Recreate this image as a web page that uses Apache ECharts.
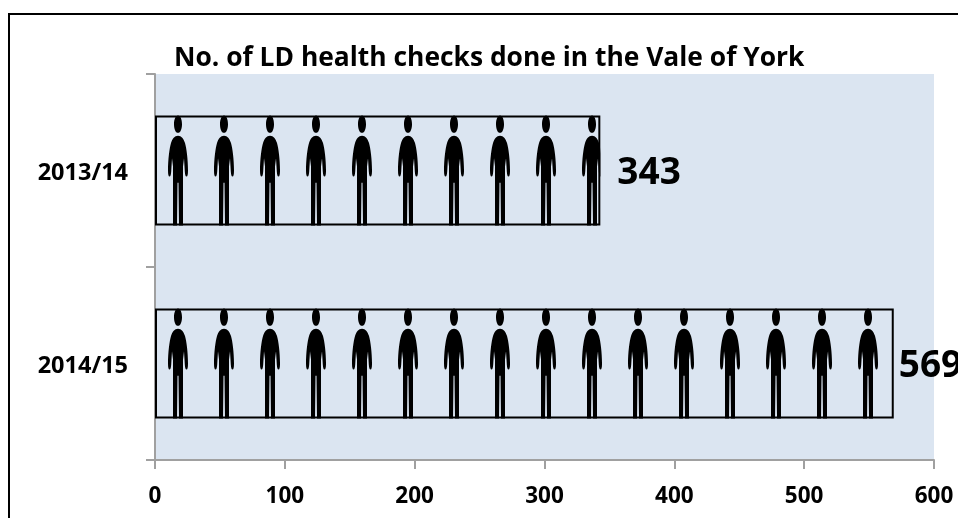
<!DOCTYPE html>
<html>
<head>
<meta charset="utf-8">
<style>
  html, body { margin: 0; padding: 0; background: #fff; }
  #main { width: 958px; height: 518px; }
</style>
<script src="https://cdn.jsdelivr.net/npm/echarts@6/dist/echarts.min.js"></script>
</head>
<body>
<div id="main"></div>
<script>
const titleText = 'No. of LD health checks done in the Vale of York'
const years = ['2013/14', '2014/15']
const checks = [343, 569]
const xTicks = [0, 100, 200, 300, 400, 500, 600]

const font = '"Open Sans", "Noto Sans", sans-serif'
const person = 'path://M10 0C12.5 0 14 4 14 8.5C14 13 12.5 17 10 17C7.5 17 6 13 6 8.5C6 4 7.5 0 10 0Z' +
  'M10 20C13.5 20 15.5 23 17 27C18.5 32 20 43 20 54C20 58 19.5 60 18.5 60C17.5 60 17 58 16.8 55L16 42L15 50L15 108L11 108L10.5 66L9.5 66L9 108L5 108L5 50L4 42L3.2 55C3 58 2.5 60 1.5 60C0.5 60 0 58 0 54C0 43 1.5 32 3 27C4.5 23 6.5 20 10 20Z'

const chart = echarts.init(document.getElementById('main'))

chart.setOption({
  animation: false,
  title: {
    text: titleText,
    left: 174,
    top: 45,
    padding: 0,
    textStyle: { fontFamily: font, fontSize: 26.4, fontWeight: 'bold', color: '#000' }
  },
  grid: {
    left: 155, top: 74, width: 779, height: 386,
    show: true, backgroundColor: '#dbe5f1', borderWidth: 0
  },
  // outer frame runs off the right and bottom of the picture
  graphic: [{
    type: 'rect',
    shape: { x: 9, y: 14, width: 1000, height: 600 },
    style: { fill: 'none', stroke: '#000', lineWidth: 2 },
    z: 0
  }],
  xAxis: {
    type: 'value',
    min: xTicks[0],
    max: xTicks[xTicks.length - 1],
    interval: 100,
    splitLine: { show: false },
    axisLine: { show: true, lineStyle: { color: '#a0a0a0', width: 2 } },
    axisTick: { show: true, length: 9, lineStyle: { color: '#a0a0a0', width: 2 } },
    axisLabel: { fontFamily: font, fontSize: 22.5, fontWeight: 'bold', color: '#000', margin: 25 }
  },
  yAxis: {
    type: 'category',
    data: years,
    inverse: true,
    axisLine: { show: true, lineStyle: { color: '#a0a0a0', width: 2 } },
    axisTick: { show: true, length: 9, lineStyle: { color: '#a0a0a0', width: 2 } },
    // small line box anchored at its top pushes the text a little below the band centre
    axisLabel: { fontFamily: font, fontSize: 23.5, fontWeight: 'bold', color: '#000', margin: 27, verticalAlign: 'top', lineHeight: 5 }
  },
  series: [
    {
      type: 'bar',
      data: [
        { value: checks[0], label: { distance: 17 } },
        { value: checks[1], label: { distance: 5 } }
      ],
      barWidth: 110,
      itemStyle: { color: 'transparent', borderColor: '#000', borderWidth: 2 },
      label: {
        show: true, position: 'right', offset: [0, 3],
        fontFamily: font, fontSize: 37, fontWeight: 'bold', color: '#000'
      },
      z: 3
    },
    {
      type: 'pictorialBar',
      data: checks,
      symbol: person,
      symbolSize: [20, 110],
      symbolRepeat: 16,
      symbolMargin: '13!',
      symbolBoundingData: 566.9,
      symbolClip: true,
      barGap: '-100%',
      barWidth: 110,
      itemStyle: { color: '#000' },
      z: 2
    }
  ]
})
</script>
</body>
</html>
